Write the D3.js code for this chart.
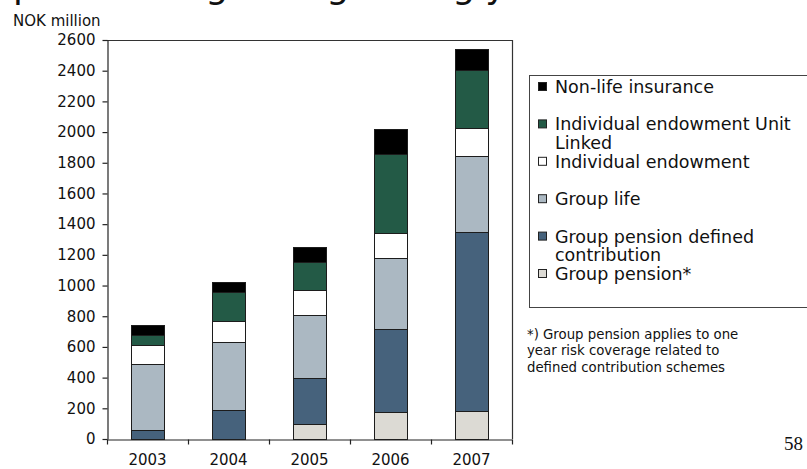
<!DOCTYPE html>
<html>
<head>
<meta charset="utf-8">
<script src="https://cdn.jsdelivr.net/npm/d3@7/dist/d3.min.js"></script>
<style>
  html, body { margin: 0; padding: 0; background: #fff; }
  svg { display: block; font-family: "DejaVu Sans", Verdana, sans-serif; }
</style>
</head>
<body>
<svg id="chart" width="807" height="469"></svg>
<script>
// Premiums by product line, NOK million
const years = ["2003", "2004", "2005", "2006", "2007"];
const groupPension      = [0, 0, 98, 176, 184];
const groupPensionDC    = [60, 190, 299, 541, 1163];
const groupLife         = [430, 445, 411, 460, 495];
const indEndowment      = [120, 137, 161, 165, 186];
const indUnitLinked     = [70, 187, 186, 513, 378];
const nonLife           = [60, 63, 94, 165, 135];

const yTicks = [0, 200, 400, 600, 800, 1000, 1200, 1400, 1600, 1800, 2000, 2200, 2400, 2600];

const seriesDefs = [
  { key: "gp",   name: ["Group pension*"],                         values: groupPension,   color: "#dcdad4" },
  { key: "gpdc", name: ["Group pension defined", "contribution"],  values: groupPensionDC, color: "#46627c" },
  { key: "gl",   name: ["Group life"],                             values: groupLife,      color: "#abb8c2" },
  { key: "ie",   name: ["Individual endowment"],                   values: indEndowment,   color: "#ffffff" },
  { key: "ul",   name: ["Individual endowment Unit", "Linked"],    values: indUnitLinked,  color: "#235a46" },
  { key: "nl",   name: ["Non-life insurance"],                     values: nonLife,        color: "#000000" }
];

const rows = years.map((yr, i) => {
  const r = { year: yr };
  seriesDefs.forEach(s => { r[s.key] = s.values[i]; });
  return r;
});

const svg = d3.select("#chart");

// slide title (runs off the top of the page)
svg.append("text")
  .attr("x", 13).attr("y", -2)
  .attr("font-size", 36)
  .attr("fill", "#111")
  .text("premiums growing strongly");

const plot = { left: 107, right: 512, top: 40, bottom: 439 };

const x = d3.scaleBand().domain(years).range([plot.left, plot.right]).padding(0);
const y = d3.scaleLinear().domain([0, 2600]).range([plot.bottom, plot.top]);

const barW = x.bandwidth() * 0.41;

const stack = d3.stack().keys(seriesDefs.map(s => s.key));
const layers = stack(rows);

const colorOf = {};
seriesDefs.forEach(s => { colorOf[s.key] = s.color; });

// stacked bars
const g = svg.append("g");
layers.forEach(layer => {
  g.selectAll(null)
    .data(layer.filter(d => d[1] - d[0] > 0))
    .join("rect")
    .attr("x", d => Math.round(x(d.data.year) + (x.bandwidth() - barW) / 2) + 0.5)
    .attr("y", d => Math.round(y(d[1])) + 0.5)
    .attr("width", Math.round(barW))
    .attr("height", d => Math.round(y(d[0])) - Math.round(y(d[1])))
    .attr("fill", colorOf[layer.key])
    .attr("stroke", "#1c1c1c")
    .attr("stroke-width", 1);
});

// plot frame: top and right edges
svg.append("path")
  .attr("d", `M${plot.left},${plot.top + 0.5}H${plot.right + 0.5}V${plot.bottom}`)
  .attr("fill", "none")
  .attr("stroke", "#333")
  .attr("stroke-width", 1.2);

// y axis
const yAxis = svg.append("g")
  .attr("transform", `translate(${plot.left + 0.5},0)`)
  .call(d3.axisLeft(y).tickValues(yTicks).tickFormat(d3.format("d"))
    .tickSize(5).tickSizeOuter(0).tickPadding(7));
yAxis.selectAll("text").attr("font-size", 15).attr("fill", "#111")
  .attr("font-family", "DejaVu Sans, Verdana, sans-serif");
yAxis.selectAll("line, path").attr("stroke", "#222").attr("stroke-width", 1.2);

// x axis with ticks at category boundaries
const xAxis = svg.append("g")
  .attr("transform", `translate(0,${plot.bottom + 0.5})`)
  .call(d3.axisBottom(x).tickSize(0).tickPadding(15));
xAxis.selectAll("text").attr("font-size", 15).attr("fill", "#111")
  .attr("font-family", "DejaVu Sans, Verdana, sans-serif");
xAxis.select("path").attr("stroke", "#222").attr("stroke-width", 1.2);
const bounds = years.map(yr => x(yr)).concat([x(years[years.length - 1]) + x.bandwidth()]);
xAxis.selectAll("line.bound")
  .data(bounds)
  .join("line")
  .attr("class", "bound")
  .attr("x1", d => Math.round(d) + 0.5).attr("x2", d => Math.round(d) + 0.5)
  .attr("y1", 0).attr("y2", 5)
  .attr("stroke", "#222").attr("stroke-width", 1.2);

// unit label
svg.append("text")
  .attr("x", 13).attr("y", 26)
  .attr("font-size", 15).attr("fill", "#111")
  .text("NOK million");

// legend
const legend = svg.append("g");
legend.append("rect")
  .attr("x", 529.5).attr("y", 75.5)
  .attr("width", 300).attr("height", 232)
  .attr("fill", "#fff")
  .attr("stroke", "#444").attr("stroke-width", 1);

const legendItems = seriesDefs.slice().reverse();
legendItems.forEach((s, i) => {
  const base = 93 + i * 37.4;
  legend.append("rect")
    .attr("x", 538.5).attr("y", base - 10.5)
    .attr("width", 8).attr("height", 8)
    .attr("fill", s.color)
    .attr("stroke", "#222").attr("stroke-width", 1);
  s.name.forEach((line, j) => {
    legend.append("text")
      .attr("x", 555).attr("y", base + j * 18.5)
      .attr("font-size", 17.5).attr("fill", "#111")
      .text(line);
  });
});

// footnote
const note = [
  "*) Group pension applies to one",
  "year risk coverage related to",
  "defined contribution schemes"
];
svg.append("g").selectAll("text")
  .data(note)
  .join("text")
  .attr("x", 527)
  .attr("y", (d, i) => 339 + i * 16.3)
  .attr("font-size", 13.3)
  .attr("fill", "#111")
  .text(d => d);

// page number
svg.append("text")
  .attr("x", 803).attr("y", 450)
  .attr("text-anchor", "end")
  .attr("font-family", "Liberation Serif, Times New Roman, serif")
  .attr("font-size", 19)
  .attr("fill", "#111")
  .text("58");
</script>
</body>
</html>
